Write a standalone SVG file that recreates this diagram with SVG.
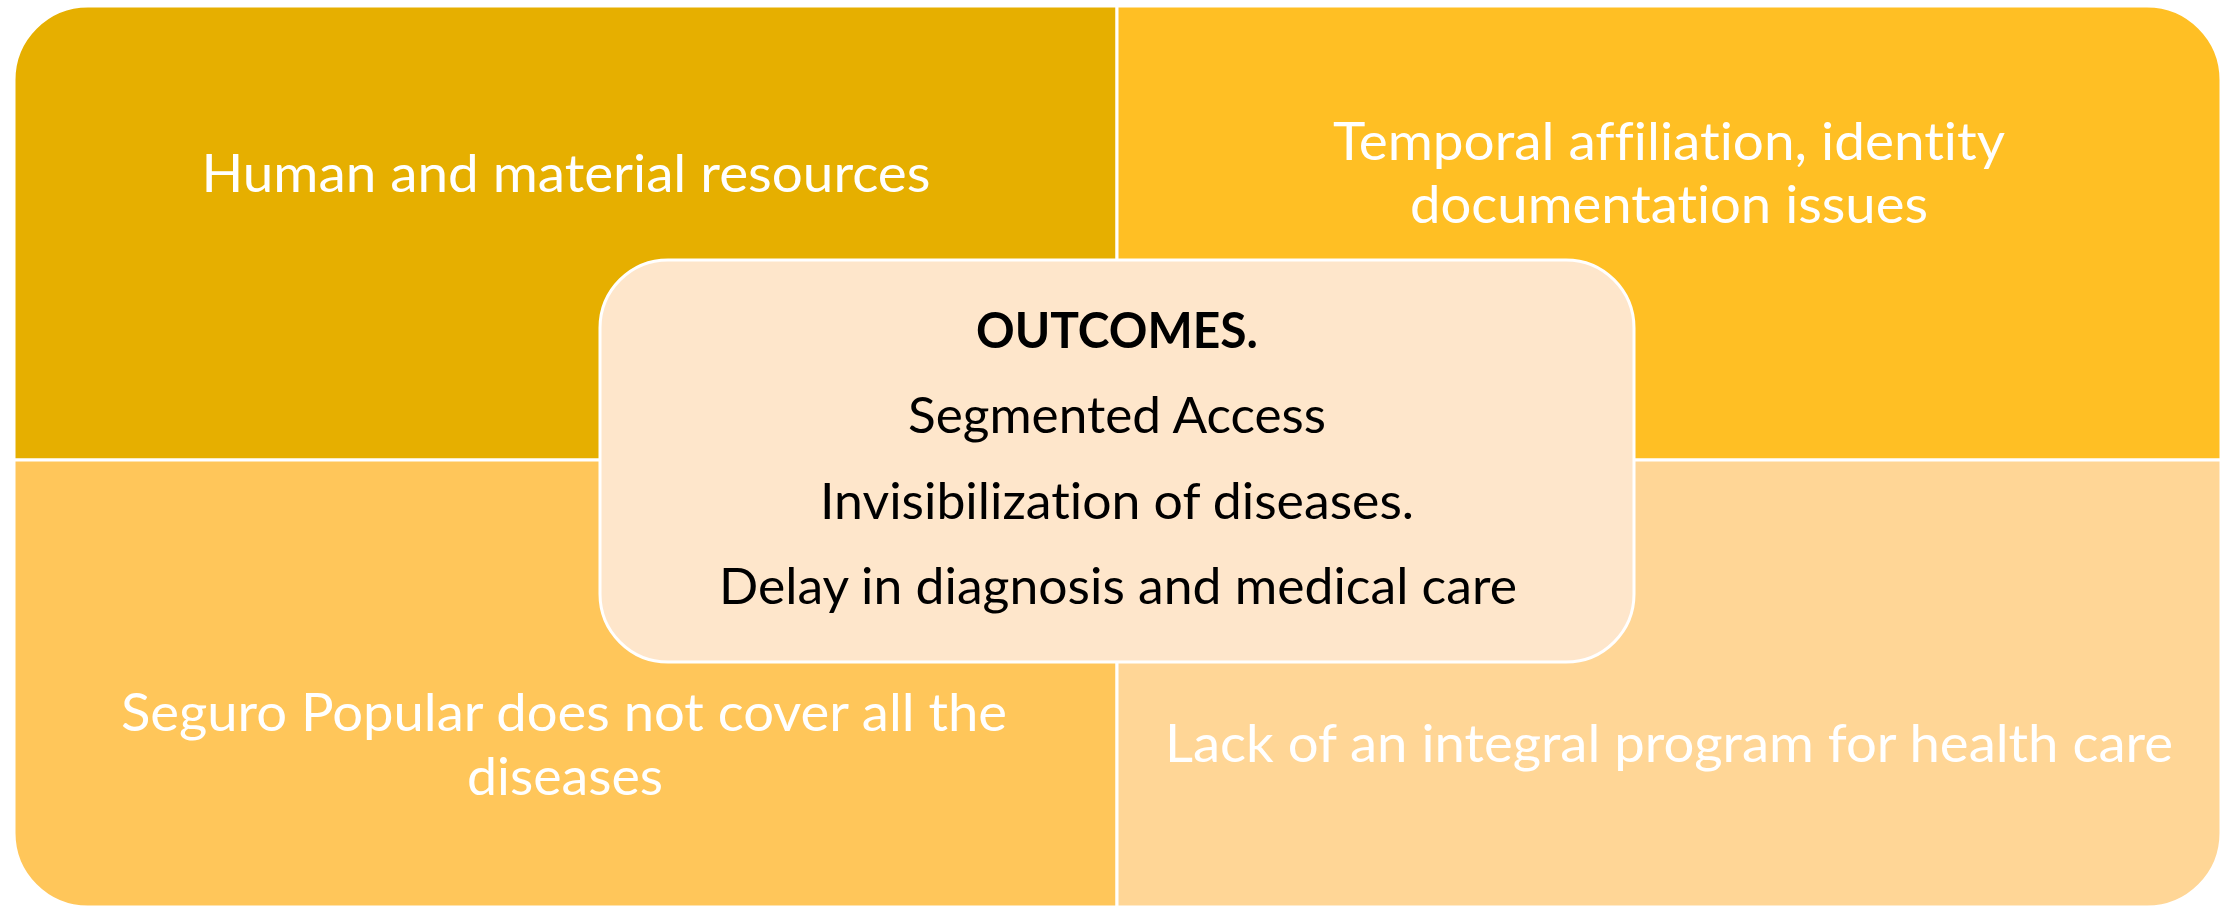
<svg xmlns="http://www.w3.org/2000/svg" width="2233" height="912" viewBox="0 0 2233 912">
<style>
.q{stroke:#FFFFFF;stroke-width:3}
.wt{font-family:Lato,"Open Sans",sans-serif;font-size:52px;fill:#FFFFFF;text-anchor:middle;font-variant-ligatures:none}
.bt{font-family:Lato,"Open Sans",sans-serif;font-size:50px;fill:#000000;text-anchor:middle;font-variant-ligatures:none}
</style>
<rect width="2233" height="912" fill="#FFFFFF"/>
<g id="node-top-left">
<path class="q" fill="#E6AF00" d="M14,460 L14,80 A74,74 0 0 1 88,6 L1117,6 L1117,460 Z"/>
<text class="wt" x="566" y="192" textLength="729" lengthAdjust="spacingAndGlyphs">Human and material resources</text>
</g>
<g id="node-top-right">
<path class="q" fill="#FFBF24" d="M1117,6 L2147,6 A74,74 0 0 1 2221,80 L2221,460 L1117,460 Z"/>
<text class="wt" x="1669" y="160" textLength="672" lengthAdjust="spacingAndGlyphs">Temporal affiliation, identity</text>
<text class="wt" x="1669" y="223" textLength="518" lengthAdjust="spacingAndGlyphs">documentation issues</text>
</g>
<g id="node-bottom-left">
<path class="q" fill="#FFC65A" d="M14,460 L1117,460 L1117,907 L88,907 A74,74 0 0 1 14,833 Z"/>
<text class="wt" x="564" y="731" textLength="886" lengthAdjust="spacingAndGlyphs">Seguro Popular does not cover all the</text>
<text class="wt" x="565" y="795" textLength="196" lengthAdjust="spacingAndGlyphs">diseases</text>
</g>
<g id="node-bottom-right">
<path class="q" fill="#FFD696" d="M1117,460 L2221,460 L2221,833 A74,74 0 0 1 2147,907 L1117,907 Z"/>
<text class="wt" x="1669" y="762" textLength="1008" lengthAdjust="spacingAndGlyphs">Lack of an integral program for health care</text>
</g>
<g id="node-center">
<rect class="q" x="600" y="260" width="1034" height="402" rx="68" ry="68" fill="#FEE6CB"/>
<text class="bt" x="1117" y="348" font-weight="bold" textLength="282" lengthAdjust="spacingAndGlyphs">OUTCOMES.</text>
<text class="bt" x="1117" y="433" textLength="418" lengthAdjust="spacingAndGlyphs">Segmented Access</text>
<text class="bt" x="1117" y="519" textLength="594" lengthAdjust="spacingAndGlyphs">Invisibilization of diseases.</text>
<text class="bt" x="1118" y="604" textLength="798" lengthAdjust="spacingAndGlyphs">Delay in diagnosis and medical care</text>
</g>
<g id="connectors"></g>
</svg>
